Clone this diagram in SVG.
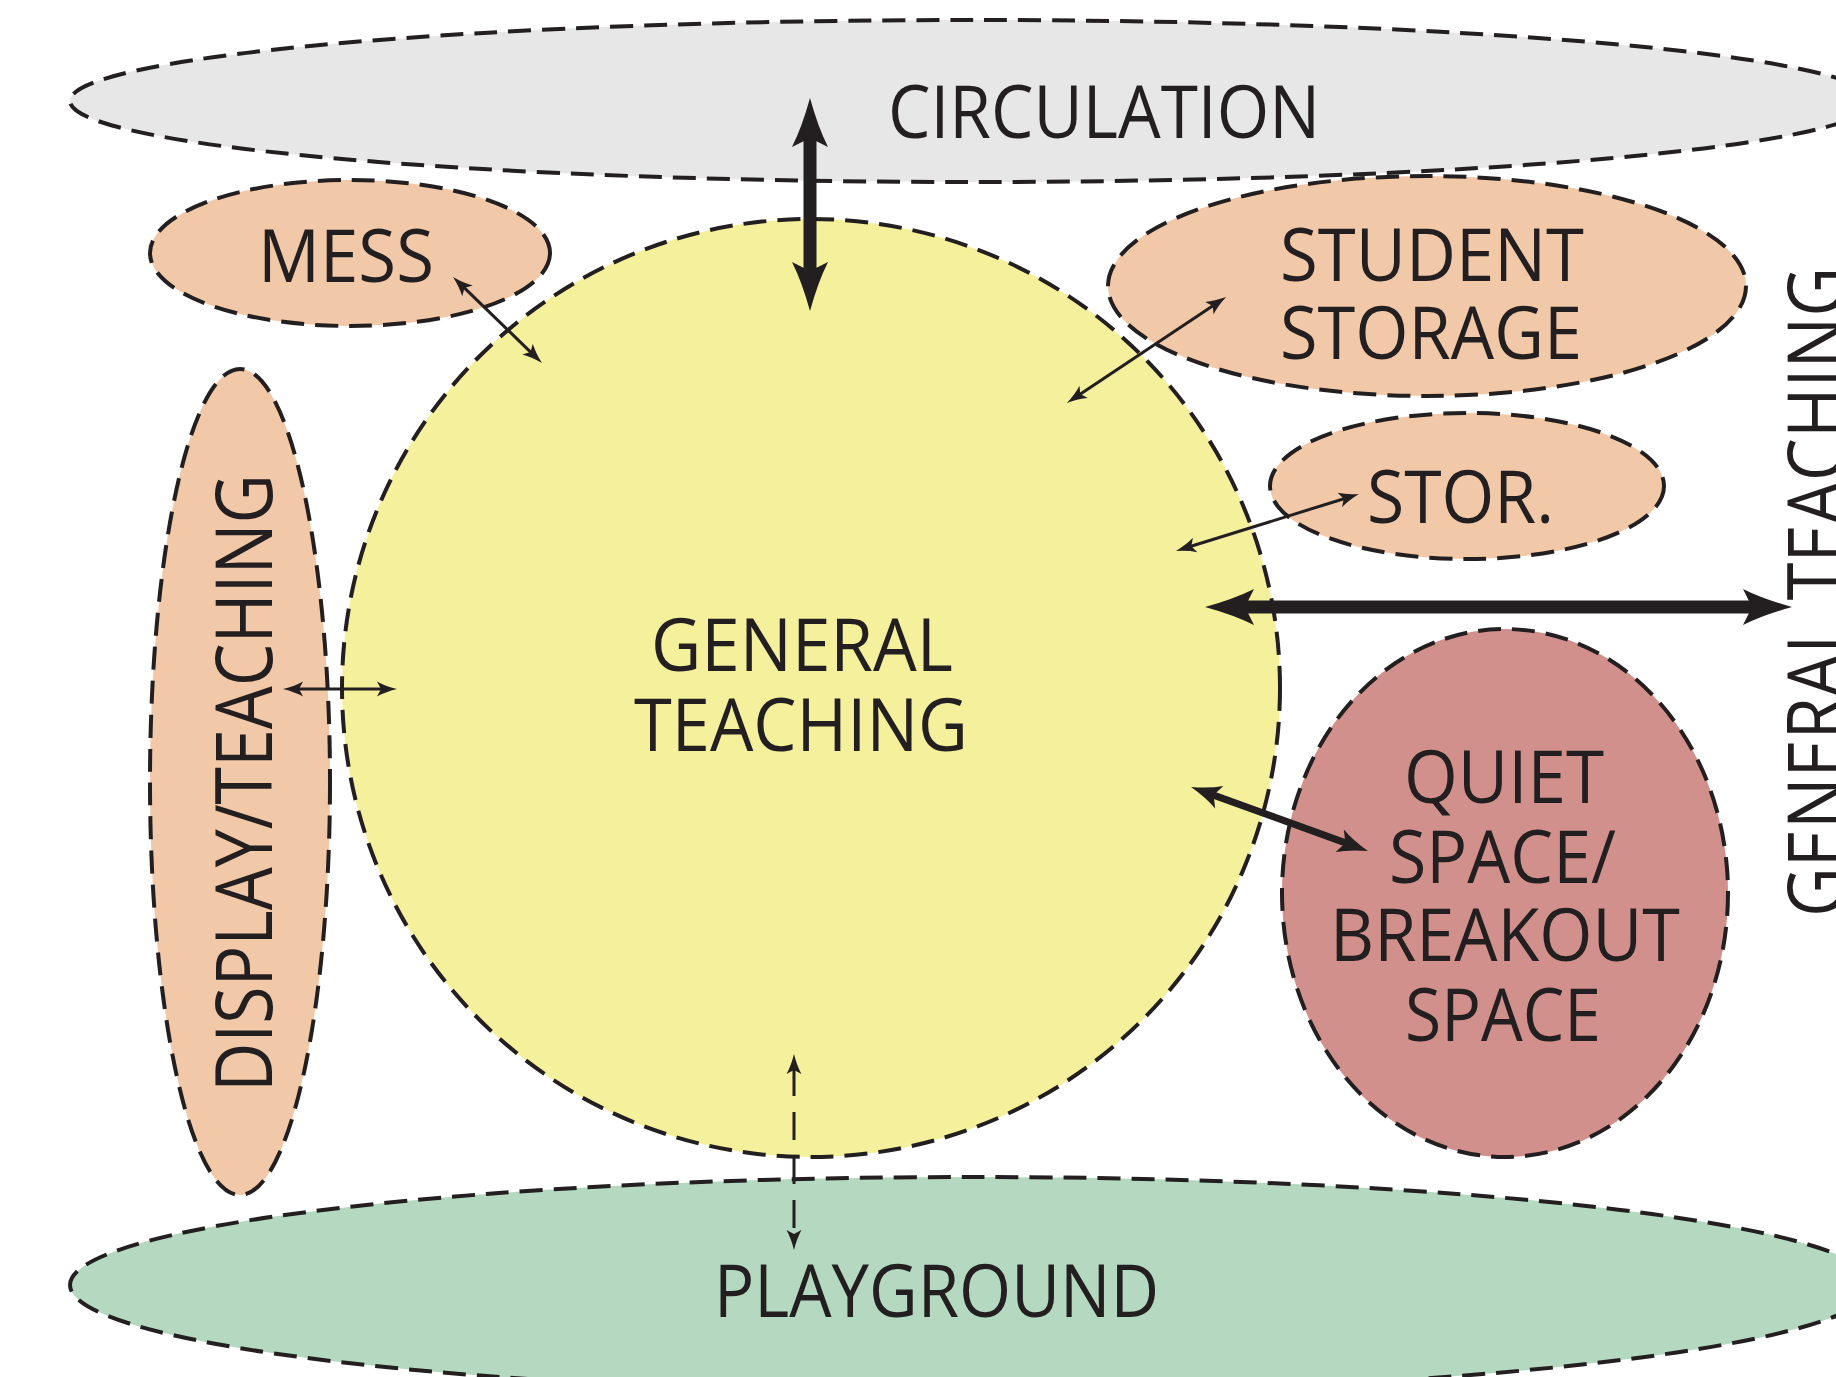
<svg xmlns="http://www.w3.org/2000/svg" width="1836" height="1377" viewBox="0 0 1836 1377">
<style>
.zone{stroke:#231f20;stroke-width:4;stroke-dasharray:23 11}
.circ{fill:#e6e7e6}
.org{fill:#f2c9a8}
.yel{fill:#f4f09b}
.rose{fill:#d1908b}
.grn{fill:#b4d8c0}
.lbl{font-family:"Open Sans","Liberation Sans",sans-serif;font-size:74px;fill:#231f20}
.vlbl{font-family:"Open Sans","Liberation Sans",sans-serif;font-size:78px;fill:#231f20}
.thick{stroke:#231f20;stroke-width:13;fill:none;marker-start:url(#hThick);marker-end:url(#hThick)}
.med{stroke:#231f20;stroke-width:7;fill:none;marker-start:url(#hMed);marker-end:url(#hMed)}
.thin{stroke:#231f20;stroke-width:3;fill:none;marker-start:url(#hThin);marker-end:url(#hThin)}
.dash{stroke-dasharray:28 16}
</style>
<defs>
<marker id="hThick" markerUnits="userSpaceOnUse" markerWidth="50" markerHeight="38" viewBox="0 -19 50 38" refX="12" refY="0" orient="auto-start-reverse" overflow="visible">
<path d="M0,-18 Q20,-8 49,0 Q20,8 0,18 L9,0 Z" fill="#231f20"/>
</marker>
<marker id="hMed" markerUnits="userSpaceOnUse" markerWidth="31" markerHeight="26" viewBox="0 -13 31 26" refX="9" refY="0" orient="auto-start-reverse" overflow="visible">
<path d="M0,-12 Q12,-5 30,0 Q12,5 0,12 L6,0 Z" fill="#231f20"/>
</marker>
<marker id="hThin" markerUnits="userSpaceOnUse" markerWidth="21" markerHeight="17" viewBox="0 -8.5 21 17" refX="6" refY="0" orient="auto-start-reverse" overflow="visible">
<path d="M0,-7.5 Q8,-3 20,0 Q8,3 0,7.5 L4,0 Z" fill="#231f20"/>
</marker>
</defs>

<g id="circulation">
<ellipse class="zone circ" cx="972" cy="101" rx="902" ry="81"/>
<text class="lbl" x="888" y="138" textLength="432" lengthAdjust="spacingAndGlyphs">CIRCULATION</text>
</g>

<g id="playground">
<ellipse class="zone grn" cx="972" cy="1285" rx="902" ry="108"/>
<text class="lbl" x="714" y="1317" textLength="445" lengthAdjust="spacingAndGlyphs">PLAYGROUND</text>
</g>

<g id="mess">
<ellipse class="zone org" cx="350" cy="253" rx="200" ry="73"/>
<text class="lbl" x="258" y="282" textLength="176" lengthAdjust="spacingAndGlyphs">MESS</text>
</g>

<g id="student-storage">
<ellipse class="zone org" cx="1427" cy="286" rx="319" ry="110"/>
<text class="lbl" x="1280" y="281" textLength="304" lengthAdjust="spacingAndGlyphs">STUDENT</text>
<text class="lbl" x="1280" y="359" textLength="302" lengthAdjust="spacingAndGlyphs">STORAGE</text>
</g>

<g id="stor">
<ellipse class="zone org" cx="1467" cy="486" rx="197" ry="73"/>
<text class="lbl" x="1367" y="523" textLength="187" lengthAdjust="spacingAndGlyphs">STOR.</text>
</g>

<g id="display-teaching">
<ellipse class="zone org" cx="240" cy="782" rx="90" ry="413"/>
<text class="vlbl" transform="translate(272,1092) rotate(-90)" x="0" y="0" textLength="618" lengthAdjust="spacingAndGlyphs">DISPLAY/TEACHING</text>
</g>

<g id="general-teaching">
<circle class="zone yel" cx="811" cy="688" r="469"/>
<text class="lbl" x="651" y="671" textLength="302" lengthAdjust="spacingAndGlyphs">GENERAL</text>
<text class="lbl" x="634" y="751" textLength="334" lengthAdjust="spacingAndGlyphs">TEACHING</text>
</g>

<g id="quiet-space">
<ellipse class="zone rose" cx="1505" cy="893" rx="223" ry="264"/>
<text class="lbl" x="1404" y="803" textLength="200" lengthAdjust="spacingAndGlyphs">QUIET</text>
<text class="lbl" x="1389" y="883" textLength="227" lengthAdjust="spacingAndGlyphs">SPACE/</text>
<text class="lbl" x="1330" y="961" textLength="350" lengthAdjust="spacingAndGlyphs">BREAKOUT</text>
<text class="lbl" x="1405" y="1041" textLength="196" lengthAdjust="spacingAndGlyphs">SPACE</text>
</g>

<g id="general-teaching-adjacent">
<text class="vlbl" transform="translate(1844,917) rotate(-90)" x="0" y="0" textLength="650" lengthAdjust="spacingAndGlyphs">GENERAL TEACHING</text>
</g>

<g id="connectors">
<line class="thick" x1="810" y1="135" x2="810" y2="274"/>
<line class="thick" x1="1242" y1="607" x2="1755" y2="607"/>
<line class="med" x1="1210.8" y1="794.1" x2="1348.2" y2="843.9"/>
<line class="thin" x1="463.1" y1="286.7" x2="531.9" y2="353.3"/>
<line class="thin" x1="1214.4" y1="304.8" x2="1078.6" y2="395.2"/>
<line class="thin" x1="1345.6" y1="498.2" x2="1189.4" y2="546.8"/>
<line class="thin" x1="297" y1="689" x2="383" y2="689"/>
<line class="thin dash" x1="794" y1="1068" x2="794" y2="1236"/>
</g>
</svg>
